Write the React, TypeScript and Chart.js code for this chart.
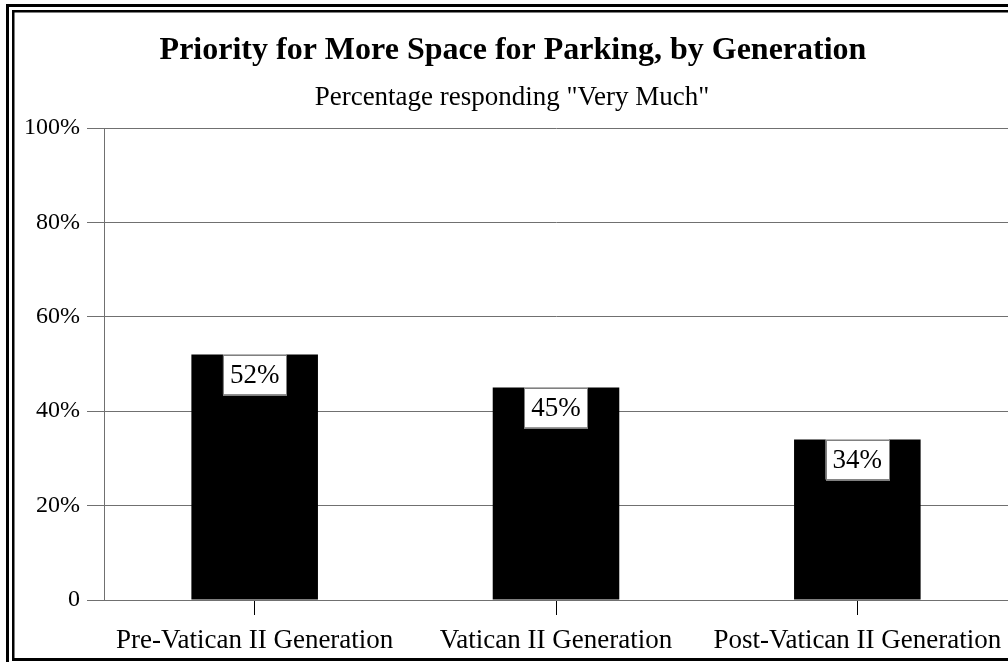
import React, { useEffect, useRef } from "react";
import { Chart, registerables } from "chart.js";

Chart.register(...registerables);

const TITLE = "Priority for More Space for Parking, by Generation";
const SUBTITLE = 'Percentage responding "Very Much"';
const categories = ["Pre-Vatican II Generation", "Vatican II Generation", "Post-Vatican II Generation"];
const values = [52, 45, 34];
const yTicks = [0, 20, 40, 60, 80, 100];

const FONT = "'Liberation Serif', 'Times New Roman', serif";

const decorPlugin = {
  id: "decor",
  beforeDraw(chart: any) {
    const { ctx, width, height } = chart;
    ctx.save();
    ctx.fillStyle = "#fff";
    ctx.fillRect(0, 0, width, height);
    ctx.fillStyle = "#000";
    // double frame
    ctx.fillRect(6, 4, 3, height - 4);
    ctx.fillRect(6, 4, width - 6, 3);
    ctx.fillRect(12, 10, 2.5, height - 14);
    ctx.fillRect(12, 10, width - 12, 2.5);
    ctx.fillRect(12, height - 4, width - 12, 3);
    // titles
    ctx.textAlign = "center";
    ctx.textBaseline = "alphabetic";
    ctx.font = `bold 32px ${FONT}`;
    ctx.fillText(TITLE, 513, 59);
    ctx.font = `27px ${FONT}`;
    ctx.fillText(SUBTITLE, 512, 105);
    ctx.restore();
  },
  afterDatasetsDraw(chart: any) {
    const { ctx } = chart;
    const meta = chart.getDatasetMeta(0);
    ctx.save();
    ctx.font = `27px ${FONT}`;
    ctx.textAlign = "center";
    ctx.textBaseline = "middle";
    meta.data.forEach((bar: any, i: number) => {
      const text = values[i] + "%";
      const w = ctx.measureText(text).width + 14;
      const h = 40;
      const x = bar.x - w / 2;
      const y = bar.y;
      ctx.fillStyle = "#fff";
      ctx.fillRect(x, y, w, h);
      ctx.strokeStyle = "#808080";
      ctx.lineWidth = 1;
      ctx.strokeRect(Math.round(x) + 0.5, Math.round(y) + 0.5, Math.round(w), h);
      ctx.fillStyle = "#000";
      ctx.fillText(text, bar.x, y + h / 2 + 1);
    });
    ctx.restore();
  },
};

export default function App() {
  const ref = useRef<HTMLCanvasElement>(null);
  useEffect(() => {
    const chart = new Chart(ref.current!, {
      type: "bar",
      data: {
        labels: categories,
        datasets: [
          {
            data: values,
            backgroundColor: "#000",
            borderWidth: 0,
            barPercentage: 0.42,
            categoryPercentage: 1,
          },
        ],
      },
      options: {
        responsive: false,
        animation: false,
        layout: { padding: { top: 128, left: 0, right: 0, bottom: 0 } },
        plugins: {
          legend: { display: false },
          title: { display: false },
          tooltip: { enabled: false },
        },
        scales: {
          x: {
            grid: {
              offset: false,
              drawOnChartArea: false,
              drawTicks: true,
              tickLength: 15,
              color: "#000",
            },
            border: { color: "#707070", width: 1 },
            ticks: {
              color: "#000",
              font: { family: FONT, size: 27 },
              padding: 10,
              maxRotation: 0,
              autoSkip: false,
            },
            afterFit(scale: any) {
              scale.height = 62;
              scale.paddingLeft = 0;
              scale.paddingRight = 0;
            },
          },
          y: {
            min: 0,
            max: 100,
            afterBuildTicks(scale: any) {
              scale.ticks = yTicks.map((v) => ({ value: v }));
            },
            grid: {
              color: "#707070",
              drawTicks: true,
              tickLength: 17,
            },
            border: { color: "#707070", width: 1 },
            ticks: {
              color: "#000",
              font: { family: FONT, size: 24 },
              padding: 7,
              callback: (v: any) => (v === 0 ? "0" : v + "%"),
            },
            afterFit(scale: any) {
              scale.width = 104;
            },
          },
        },
      },
      plugins: [decorPlugin],
    });
    return () => chart.destroy();
  }, []);
  return (
    <div style={{ position: "absolute", left: 0, top: 0, width: 1008, height: 662 }}>
      <canvas ref={ref} width={1008} height={662} style={{ display: "block" }} />
    </div>
  );
}
